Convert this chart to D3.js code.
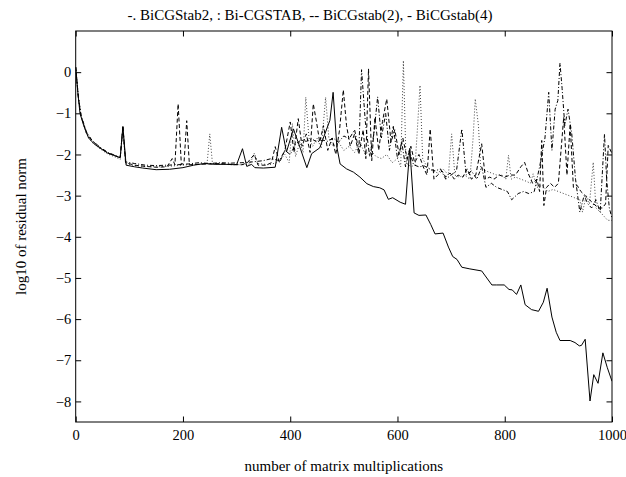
<!DOCTYPE html>
<html><head><meta charset="utf-8">
<script src="https://cdn.jsdelivr.net/npm/d3@7"></script>
<style>body{margin:0;background:#fff}svg{display:block}text{font-family:"Liberation Serif","Times New Roman",serif;fill:#000}</style>
</head><body><svg id="c" width="626" height="477"></svg>
<script>
const titleText = "-. BiCGStab2, : Bi-CGSTAB, -- BiCGstab(2), - BiCGstab(4)";
const xLabel = "number of matrix multiplications";
const yLabel = "log10 of residual norm";
const xTicks = [0, 200, 400, 600, 800, 1000];
const yTicks = [0, -1, -2, -3, -4, -5, -6, -7, -8];

const seriesNames = ["BiCGStab2", "Bi-CGSTAB", "BiCGstab(2)", "BiCGstab(4)"];

const bicgstab2 = [[0,0.12],[5,-0.6],[10,-1.05],[20,-1.45],[30,-1.65],[45,-1.82],[60,-1.95],[75,-2.03],[83,-2.07],[88,-1.35],[93,-2.18],[110,-2.22],[130,-2.26],[150,-2.27],[170,-2.26],[190,-2.25],[210,-2.23],[230,-2.2],[250,-2.22],[270,-2.2],[290,-2.21],[310,-2.2],[330,-2.18],[350,-2.15],[365,-2.1],[380,-2.15],[390,-1.9],[400,-2.0],[410,-1.75],[420,-1.65],[430,-1.68],[440,-1.62],[450,-1.7],[460,-1.65],[470,-1.68],[480,-1.6],[490,-1.7],[500,-1.55],[510,-1.62],[520,-1.4],[528,-1.9],[533,0.06],[540,-1.2],[548,-2.05],[556,-1.5],[563,-0.6],[570,-1.6],[578,-1.0],[585,-1.9],[592,-1.3],[600,-2.1],[608,-1.7],[615,-2.3],[622,-1.9],[630,-2.25],[640,-2.3],[650,-2.28],[660,-2.35],[670,-2.4],[680,-2.35],[690,-2.6],[700,-2.5],[710,-2.4],[720,-1.38],[728,-2.5],[738,-2.4],[748,-2.6],[757,-2.3],[765,-2.8],[775,-2.7],[785,-2.8],[795,-2.85],[805,-2.9],[813,-3.1],[825,-2.95],[835,-2.9],[845,-2.95],[855,-2.9],[865,-2.3],[875,-1.6],[882,-0.49],[888,-1.9],[894,-0.9],[899,-0.69],[903,0.22],[907,-0.4],[912,-1.3],[918,-0.9],[925,-1.5],[932,-2.6],[940,-3.4],[948,-3.0],[955,-3.2],[962,-3.3],[970,-3.1],[978,-3.4],[986,-1.5],[990,-2.6],[995,-3.3],[1000,-3.55]];

const bicgstab = [[0,0.12],[5,-0.63],[10,-1.08],[20,-1.5],[30,-1.7],[45,-1.86],[60,-1.99],[75,-2.07],[83,-2.12],[88,-1.38],[93,-2.22],[110,-2.27],[130,-2.29],[150,-2.3],[170,-2.29],[190,-2.27],[210,-2.25],[230,-2.24],[245,-2.22],[250,-1.5],[255,-2.22],[270,-2.23],[290,-2.25],[310,-2.25],[325,-2.23],[333,-1.97],[340,-2.22],[360,-2.25],[375,-2.2],[390,-2.0],[398,-2.2],[404,-1.25],[410,-2.05],[418,-1.7],[424,-1.95],[429,-0.61],[435,-1.6],[442,-1.8],[450,-1.6],[458,-1.85],[466,-0.61],[472,-1.6],[480,-1.8],[490,-1.7],[500,-1.9],[510,-1.8],[520,-1.95],[530,-1.7],[540,-2.0],[550,-1.9],[560,-2.05],[570,-2.1],[580,-2.0],[590,-2.2],[600,-2.1],[606,-2.3],[611,0.28],[616,-2.2],[625,-2.3],[633,-2.25],[638,-1.2],[642,-0.32],[647,-2.1],[655,-2.3],[665,-2.4],[675,-2.45],[685,-2.35],[695,-2.5],[701,-1.5],[707,-2.5],[715,-2.55],[725,-2.5],[735,-2.6],[741,-1.6],[745,-0.65],[751,-1.3],[755,-2.3],[765,-2.4],[775,-2.45],[785,-2.5],[795,-2.5],[802,-2.6],[807,-2.02],[812,-2.6],[820,-2.55],[830,-2.6],[840,-2.65],[848,-2.7],[853,-2.47],[860,-2.8],[870,-2.75],[880,-2.9],[890,-2.85],[900,-2.9],[910,-2.95],[920,-3.0],[930,-3.05],[940,-3.1],[945,-3.4],[952,-3.0],[958,-3.2],[965,-2.19],[970,-3.3],[978,-3.4],[985,-3.5],[992,-3.6],[1000,-3.6]];

const bicgstabL2 = [[0,0.12],[5,-0.62],[10,-1.07],[20,-1.47],[30,-1.66],[45,-1.83],[60,-1.96],[75,-2.04],[83,-2.08],[88,-1.3],[93,-2.2],[110,-2.26],[130,-2.29],[150,-2.31],[170,-2.3],[180,-2.1],[185,-2.25],[191,-0.77],[197,-2.25],[202,-2.2],[207,-1.18],[212,-2.25],[230,-2.24],[250,-2.23],[270,-2.22],[290,-2.24],[310,-2.25],[320,-2.2],[333,-2.0],[340,-2.26],[355,-2.26],[365,-2.2],[372,-1.81],[380,-2.2],[390,-1.9],[400,-1.21],[407,-1.95],[415,-1.13],[422,-1.8],[430,-1.5],[437,-1.95],[443,-0.77],[449,-1.21],[455,-1.7],[462,-1.3],[470,-1.9],[478,-1.6],[485,-2.0],[492,-1.4],[499,-0.43],[505,-1.3],[512,-1.8],[520,-1.5],[528,-2.0],[536,-1.4],[541,-2.1],[546,0.08],[552,-2.15],[558,-1.1],[565,-1.9],[572,-1.2],[580,-0.65],[588,-1.7],[595,-1.4],[603,-2.0],[610,-1.6],[618,-2.1],[625,-1.8],[632,-2.2],[640,-2.0],[648,-2.3],[655,-2.5],[661,-1.38],[668,-2.6],[675,-2.5],[683,-2.4],[690,-2.55],[698,-2.45],[706,-2.6],[713,-2.5],[722,-2.55],[730,-2.35],[738,-2.6],[746,-2.5],[757,-1.74],[764,-2.6],[772,-2.55],[780,-2.6],[790,-2.5],[800,-2.55],[810,-2.5],[820,-2.5],[830,-2.3],[837,-2.19],[845,-2.5],[852,-2.7],[860,-2.6],[865,-2.9],[869,-1.66],[873,-3.24],[878,-2.8],[885,-2.7],[893,-2.8],[900,-2.7],[910,-1.09],[916,-2.5],[922,-1.26],[928,-2.8],[935,-2.75],[942,-2.9],[950,-3.0],[958,-3.1],[966,-3.2],[974,-3.3],[982,-3.3],[988,-3.2],[993,-1.78],[1000,-1.98]];

const bicgstabL4 = [[0,0.12],[4,-0.5],[8,-1.0],[15,-1.3],[24,-1.6],[35,-1.75],[45,-1.84],[60,-1.97],[75,-2.04],[83,-2.08],[88,-1.32],[94,-2.26],[110,-2.3],[125,-2.33],[150,-2.37],[175,-2.36],[200,-2.32],[220,-2.26],[240,-2.22],[260,-2.24],[280,-2.24],[300,-2.25],[311,-1.86],[319,-2.29],[328,-2.24],[334,-2.32],[350,-2.33],[372,-2.31],[384,-1.34],[393,-1.94],[406,-1.38],[418,-1.82],[431,-2.32],[440,-1.98],[455,-1.84],[474,-1.17],[480,-0.49],[487,-1.82],[493,-2.23],[505,-2.35],[518,-2.43],[530,-2.55],[543,-2.71],[555,-2.78],[567,-2.81],[575,-2.86],[583,-3.09],[591,-3.05],[605,-3.16],[615,-3.21],[623,-1.85],[631,-3.42],[640,-3.48],[653,-3.47],[662,-3.70],[670,-3.93],[685,-3.91],[695,-4.25],[703,-4.48],[711,-4.55],[720,-4.74],[735,-4.78],[757,-4.83],[776,-5.17],[785,-5.17],[799,-5.17],[808,-5.28],[814,-5.29],[822,-5.40],[830,-5.17],[838,-5.65],[850,-5.77],[863,-5.81],[872,-5.59],[879,-5.25],[888,-5.95],[896,-6.32],[903,-6.52],[922,-6.52],[931,-6.57],[939,-6.65],[943,-6.64],[950,-6.49],[959,-7.99],[966,-7.35],[974,-7.56],[983,-6.82],[991,-7.17],[1000,-7.51]];

const svg = d3.select("#c");
const L = 75.7, R = 612, T = 31, B = 422;
const x = d3.scaleLinear().domain([0, 1000]).range([L, R]);
const y = d3.scaleLinear().domain([-8.5, 1]).range([B, T]);

const line = d3.line().x(d => x(d[0])).y(d => y(d[1]));
svg.append("clipPath").attr("id","clip").append("rect").attr("x",L).attr("y",T).attr("width",R-L).attr("height",B-T);
const g = svg.append("g").attr("clip-path","url(#clip)");
const specs = [
  {data: bicgstab, dash: "1,2", color: "#444", w: 1},
  {data: bicgstab2, dash: "4,2,1,2", color: "#000", w: 1},
  {data: bicgstabL2, dash: "4,2.5", color: "#000", w: 1},
  {data: bicgstabL4, dash: null, color: "#000", w: 1}
];
specs.forEach(s => {
  g.append("path").datum(s.data).attr("d", line).attr("fill","none")
   .attr("stroke", s.color).attr("stroke-width", s.w)
   .attr("stroke-dasharray", s.dash).attr("stroke-linejoin","miter");
});

const tfs = 14.5, lfs = 15;
const ax = (sel, gen) => { sel.call(gen); sel.select(".domain").remove(); sel.attr("font-family", null); sel.selectAll("text").attr("font-size", tfs); sel.selectAll("line").attr("stroke","#000"); };
svg.append("g").attr("transform",`translate(0,${B})`).call(s => ax(s, d3.axisBottom(x).tickValues(xTicks).tickSize(-5.5).tickPadding(7.5).tickFormat(d3.format("d"))));
svg.append("g").attr("transform",`translate(0,${T})`).call(s => ax(s, d3.axisTop(x).tickValues(xTicks).tickSize(-5.5).tickFormat("")));
svg.append("g").attr("transform",`translate(${L},0)`).call(s => ax(s, d3.axisLeft(y).tickValues(yTicks).tickSize(-5.5).tickPadding(4.5).tickFormat(d3.format("d"))));
svg.append("g").attr("transform",`translate(${R},0)`).call(s => ax(s, d3.axisRight(y).tickValues(yTicks).tickSize(-5.5).tickFormat("")));
svg.append("rect").attr("x",L).attr("y",T).attr("width",R-L).attr("height",B-T).attr("fill","none").attr("stroke","#000").attr("stroke-width",1);

svg.append("text").attr("x", 310).attr("y", 20).attr("text-anchor","middle").attr("font-size", lfs).text(titleText);
svg.append("text").attr("x", (L+R)/2).attr("y", 471).attr("text-anchor","middle").attr("font-size", lfs).text(xLabel);
svg.append("text").attr("transform",`translate(26,${(T+B)/2}) rotate(-90)`).attr("text-anchor","middle").attr("font-size", lfs).text(yLabel);
</script></body></html>
